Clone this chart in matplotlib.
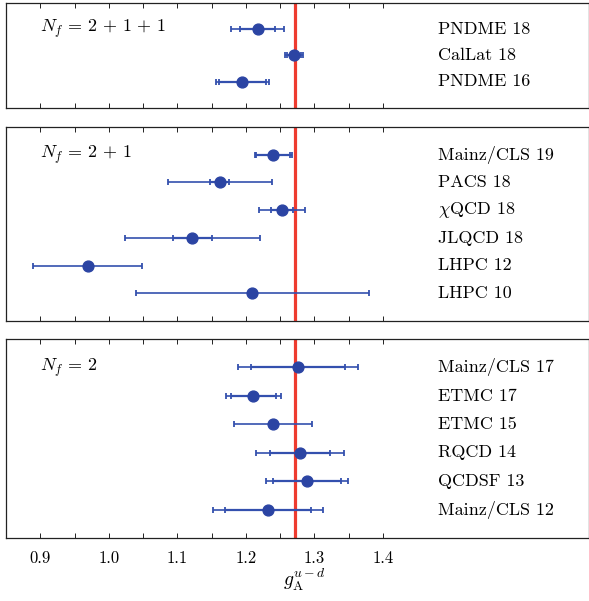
import numpy as np
import matplotlib
matplotlib.use("Agg")
import matplotlib.pyplot as plt

# g_A^{u-d} results
labels_2p1p1 = ["PNDME 18", "CalLat 18", "PNDME 16"]
val_2p1p1 = [1.217, 1.270, 1.195]
inner_2p1p1 = [0.025, 0.010, 0.034]
outer_2p1p1 = [0.039, 0.013, 0.039]

labels_2p1 = ["Mainz/CLS 19", "PACS 18", r"$\chi$QCD 18", "JLQCD 18", "LHPC 12", "LHPC 10"]
val_2p1 = [1.240, 1.162, 1.253, 1.122, 0.969, 1.209]
inner_2p1 = [0.025, 0.014, 0.016, 0.028, np.nan, np.nan]
outer_2p1 = [0.027, 0.076, 0.034, 0.099, 0.080, 0.170]

labels_2 = ["Mainz/CLS 17", "ETMC 17", "ETMC 15", "RQCD 14", "QCDSF 13", "Mainz/CLS 12"]
val_2 = [1.276, 1.211, 1.240, 1.279, 1.289, 1.232]
inner_2 = [0.068, 0.033, np.nan, 0.044, 0.050, 0.063]
outer_2 = [0.088, 0.040, 0.057, 0.064, 0.060, 0.080]

nf_titles = [r"$N_f\,=\,2\,+\,1\,+\,1$", r"$N_f\,=\,2\,+\,1$", r"$N_f\,=\,2$"]
GA_EXP = 1.2724

POINT_COLOR = "#2b44a3"
BAR_COLOR = "#3450ae"
LINE_COLOR = "#ee3b2f"

plt.rcParams["font.family"] = "cmr10"
plt.rcParams["mathtext.fontset"] = "cm"
plt.rcParams["axes.formatter.use_mathtext"] = True

W, H = 589, 601
fig = plt.figure(figsize=(W / 100, H / 100), dpi=100)

# panel boxes in pixels: (top, bottom)
boxes = [(3, 108), (127, 321), (339, 538)]
left_px, right_px = 6, 588.5

panels = [
    (labels_2p1p1, val_2p1p1, inner_2p1p1, outer_2p1p1),
    (labels_2p1, val_2p1, inner_2p1, outer_2p1),
    (labels_2, val_2, inner_2, outer_2),
]

axes = []
for k, ((top, bot), (labels, vals, inner, outer)) in enumerate(zip(boxes, panels)):
    ax = fig.add_axes([left_px / W, 1 - bot / H, (right_px - left_px) / W, (bot - top) / H])
    n = len(labels)
    y = np.arange(n)[::-1]

    ax.axvline(GA_EXP, color=LINE_COLOR, lw=2.3, zorder=1)

    ax.errorbar(vals, y, xerr=outer, fmt="none", ecolor=BAR_COLOR,
                elinewidth=1.2, capsize=2.2, capthick=1.3, zorder=2)
    ax.errorbar(vals, y, xerr=inner, fmt="none", ecolor=BAR_COLOR,
                elinewidth=1.6, capsize=2.2, capthick=1.3, zorder=2)
    ax.plot(vals, y, "o", color=POINT_COLOR, ms=7.8, zorder=3)

    for yi, lab in zip(y, labels):
        ax.text(1.48, yi, lab, ha="left", va="center", fontsize=13)
    ax.text(0.9, n - 1, nf_titles[k], ha="left", va="center", fontsize=13)

    ax.set_xlim(0.85, 1.7)
    ax.set_ylim(-1, n)
    ax.set_yticks([])
    ax.set_xticks(np.arange(0.9, 1.401, 0.05))
    ax.tick_params(axis="x", direction="in", top=True, length=3.5, width=0.7,
                   color="#222222", labelsize=12, pad=9)
    for s in ax.spines.values():
        s.set_linewidth(0.9)
        s.set_color("#222222")
    if k < 2:
        ax.tick_params(labelbottom=False)
    axes.append(ax)

ticks = np.arange(0.9, 1.401, 0.05)
axes[-1].set_xticklabels([f"{t:.1f}" if i % 2 == 0 else "" for i, t in enumerate(ticks)])
axes[-1].set_xlabel(r"$g_{\rm A}^{u-d}$", fontsize=14, labelpad=1)
axes[-1].xaxis.label.set_x(0.513)

fig.savefig("out.png", dpi=100)
